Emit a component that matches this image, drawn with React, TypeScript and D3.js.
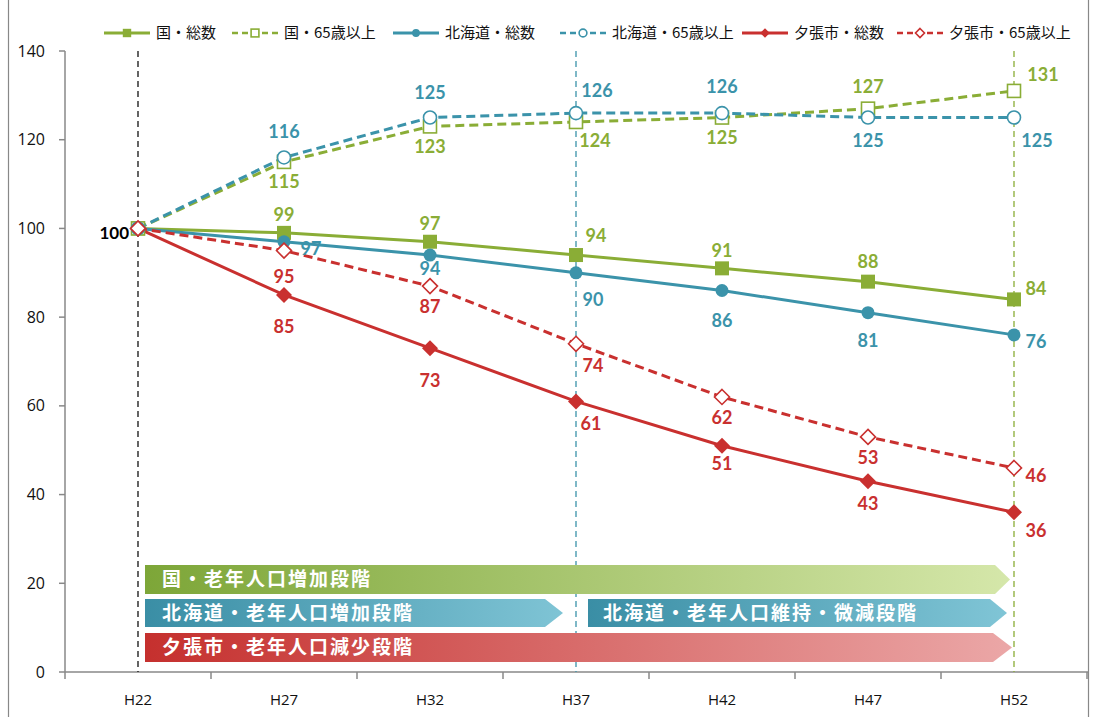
import React from "react";
import * as d3 from "d3";

const categories = ["H22", "H27", "H32", "H37", "H42", "H47", "H52"];
const kuniTotal = [100, 99, 97, 94, 91, 88, 84];
const kuniOld = [100, 115, 123, 124, 125, 127, 131];
const hokkaidoTotal = [100, 97, 94, 90, 86, 81, 76];
const hokkaidoOld = [100, 116, 125, 126, 126, 125, 125];
const yubariTotal = [100, 85, 73, 61, 51, 43, 36];
const yubariOld = [100, 95, 87, 74, 62, 53, 46];
const yTicks = [0, 20, 40, 60, 80, 100, 120, 140];
const seriesNames = ["国・総数", "国・65歳以上", "北海道・総数", "北海道・65歳以上", "夕張市・総数", "夕張市・65歳以上"];

const GREEN = "#8aad36";
const BLUE = "#3b93aa";
const RED = "#c9302f";

// label offsets (layout only)
const off: Record<string, [number, number][]> = {
  kt: [[0, 0], [0, -18], [0, -18], [20, -19], [0, -18], [0, -20], [22, -11]],
  ko: [[0, 0], [0, 20], [0, 20], [19, 19], [0, 20], [0, -22], [29, -16]],
  ht: [[0, 0], [27, 7], [0, 14], [17, 27], [0, 30], [0, 28], [22, 7]],
  ho: [[0, 0], [0, -26], [0, -25], [21, -22], [0, -26], [0, 23], [23, 23]],
  yt: [[0, 0], [0, 32], [0, 33], [15, 22], [0, 18], [0, 22], [22, 18]],
  yo: [[0, 0], [0, 26], [0, 21], [17, 22], [0, 21], [0, 21], [22, 8]],
};

type Marker = "square" | "circle" | "diamond";
const series = [
  { key: "kt", values: kuniTotal, color: GREEN, dashed: false, marker: "square" as Marker, filled: true },
  { key: "ko", values: kuniOld, color: GREEN, dashed: true, marker: "square" as Marker, filled: false },
  { key: "ht", values: hokkaidoTotal, color: BLUE, dashed: false, marker: "circle" as Marker, filled: true },
  { key: "ho", values: hokkaidoOld, color: BLUE, dashed: true, marker: "circle" as Marker, filled: false },
  { key: "yt", values: yubariTotal, color: RED, dashed: false, marker: "diamond" as Marker, filled: true },
  { key: "yo", values: yubariOld, color: RED, dashed: true, marker: "diamond" as Marker, filled: false },
];

const x = d3.scaleBand<string>().domain(categories).range([65, 1087]);
const y = d3.scaleLinear().domain([0, 140]).range([672, 51]);
const cx = (c: string) => (x(c) as number) + x.bandwidth() / 2;

function MarkerShape({ m, px, py, color, filled, s = 1 }: { m: Marker; px: number; py: number; color: string; filled: boolean; s?: number }) {
  const fill = filled ? color : "#fff";
  const sw = filled ? 0 : 1.6;
  if (m === "square") {
    const h = (filled ? 7 : 6.5) * s;
    return <rect x={px - h} y={py - h} width={h * 2} height={h * 2} fill={fill} stroke={color} strokeWidth={sw} />;
  }
  if (m === "circle") {
    return <circle cx={px} cy={py} r={(filled ? 6.5 : 6.5) * s} fill={fill} stroke={color} strokeWidth={sw} />;
  }
  const h = (filled ? 8 : 7.5) * s;
  return <path d={`M${px},${py - h}L${px + h},${py}L${px},${py + h}L${px - h},${py}Z`} fill={fill} stroke={color} strokeWidth={sw} />;
}

const arrows = [
  { x0: 145, x1: 995, tip: 1010, y0: 565, y1: 594, c0: "#7da638", c1: "#d5e7aa", text: "国・老年人口増加段階", tx: 162 },
  { x0: 145, x1: 545, tip: 563, y0: 599, y1: 627, c0: "#3a8ea5", c1: "#7fc4d5", text: "北海道・老年人口増加段階", tx: 162 },
  { x0: 588, x1: 990, tip: 1007, y0: 599, y1: 627, c0: "#3a8ea5", c1: "#80c5d6", text: "北海道・老年人口維持・微減段階", tx: 603 },
  { x0: 145, x1: 993, tip: 1012, y0: 633, y1: 662, c0: "#c5302e", c1: "#eba7a7", text: "夕張市・老年人口減少段階", tx: 162 },
];

const legendX = [104, 232, 393, 560, 742, 897];

export default function App() {
  const line = d3
    .line<number>()
    .x((_, i) => cx(categories[i]))
    .y((v) => y(v));
  const labelFont = "Lato, 'Open Sans', sans-serif";
  return (
    <svg width={1102} height={717} style={{ position: "absolute", left: 0, top: 0, background: "#fff" }}>
      <defs>
        {arrows.map((a, i) => (
          <linearGradient key={i} id={`g${i}`} x1="0" x2="1" y1="0" y2="0">
            <stop offset="0" stopColor={a.c0} />
            <stop offset="1" stopColor={a.c1} />
          </linearGradient>
        ))}
      </defs>
      {/* frame */}
      <line x1={8.5} x2={8.5} y1={0} y2={717} stroke="#888" strokeWidth={1.2} />
      <line x1={1088.5} x2={1088.5} y1={0} y2={717} stroke="#888" strokeWidth={1.2} />

      {/* axes */}
      <line x1={65} x2={65} y1={51} y2={672} stroke="#888" strokeWidth={1.5} />
      <line x1={65} x2={1088} y1={672} y2={672} stroke="#888" strokeWidth={1.5} />
      {yTicks.map((t) => (
        <g key={t}>
          <line x1={59} x2={65} y1={y(t)} y2={y(t)} stroke="#888" strokeWidth={1.5} />
          <text x={45} y={y(t)} dy="0.35em" textAnchor="end" fontFamily="'Open Sans', sans-serif" fontSize={16} fill="#111">
            {t}
          </text>
        </g>
      ))}
      {categories.map((c, i) => (
        <g key={c}>
          <line x1={(x(c) as number)} x2={(x(c) as number)} y1={672} y2={679} stroke="#888" strokeWidth={1.5} />
          {i === categories.length - 1 && (
            <line x1={1087} x2={1087} y1={672} y2={679} stroke="#888" strokeWidth={1.5} />
          )}
          <text x={cx(c)} y={700} dy="0.35em" textAnchor="middle" fontFamily="'Open Sans', sans-serif" fontSize={15} fill="#111">
            {c}
          </text>
        </g>
      ))}

      {/* vertical dashed reference lines */}
      <line x1={cx("H22")} x2={cx("H22")} y1={51} y2={672} stroke="#111" strokeWidth={1.3} strokeDasharray="6,4" />
      <line x1={cx("H37")} x2={cx("H37")} y1={51} y2={672} stroke={BLUE} strokeWidth={1.3} strokeDasharray="6,4" />
      <line x1={cx("H52")} x2={cx("H52")} y1={51} y2={672} stroke={GREEN} strokeWidth={1.3} strokeDasharray="6,4" />

      {/* arrows */}
      {arrows.map((a, i) => {
        const mid = (a.y0 + a.y1) / 2;
        return (
          <g key={i}>
            <path
              d={`M${a.x0},${a.y0}L${a.x1},${a.y0}L${a.tip},${mid}L${a.x1},${a.y1}L${a.x0},${a.y1}Z`}
              fill={`url(#g${i})`}
            />
            <text
              x={a.tx}
              y={mid}
              dy="0.36em"
              fill="#fff"
              fontFamily="'Noto Sans CJK JP', sans-serif"
              fontWeight={700}
              fontSize={19}
              letterSpacing={2}
            >
              {a.text}
            </text>
          </g>
        );
      })}

      {/* lines */}
      {series.map((s) => (
        <path
          key={s.key}
          d={line(s.values) as string}
          fill="none"
          stroke={s.color}
          strokeWidth={3}
          strokeDasharray={s.dashed ? "9,5" : undefined}
        />
      ))}
      {series.map((s) =>
        s.values.map((v, i) => (
          <MarkerShape key={s.key + i} m={s.marker} px={cx(categories[i])} py={y(v)} color={s.color} filled={s.filled} />
        ))
      )}

      {/* labels */}
      {series.map((s) =>
        s.values.map((v, i) =>
          i === 0 ? null : (
            <text
              key={s.key + "l" + i}
              x={cx(categories[i]) + off[s.key][i][0]}
              y={y(v) + off[s.key][i][1]}
              dy="0.35em"
              textAnchor="middle"
              fontFamily={labelFont}
              fontWeight={700}
              fontSize={18}
              fill={s.color}
            >
              {v}
            </text>
          )
        )
      )}
      <text x={129} y={y(100) + 5} dy="0.35em" textAnchor="end" fontFamily={labelFont} fontWeight={700} fontSize={17} fill="#000">
        100
      </text>

      {/* legend */}
      {series.map((s, i) => {
        const lx = legendX[i];
        return (
          <g key={"lg" + i}>
            <line
              x1={lx}
              x2={lx + 46}
              y1={33}
              y2={33}
              stroke={s.color}
              strokeWidth={s.dashed ? 2.4 : 3}
              strokeDasharray={s.dashed ? "6,4" : undefined}
            />
            <MarkerShape m={s.marker} px={lx + 23} py={33} color={s.color} filled={s.filled} s={0.6} />
            <text
              x={lx + 52}
              y={33}
              dy="0.35em"
              fontFamily="'Noto Sans CJK JP', sans-serif"
              fontSize={15}
              fill="#111"
            >
              {seriesNames[i]}
            </text>
          </g>
        );
      })}
    </svg>
  );
}
